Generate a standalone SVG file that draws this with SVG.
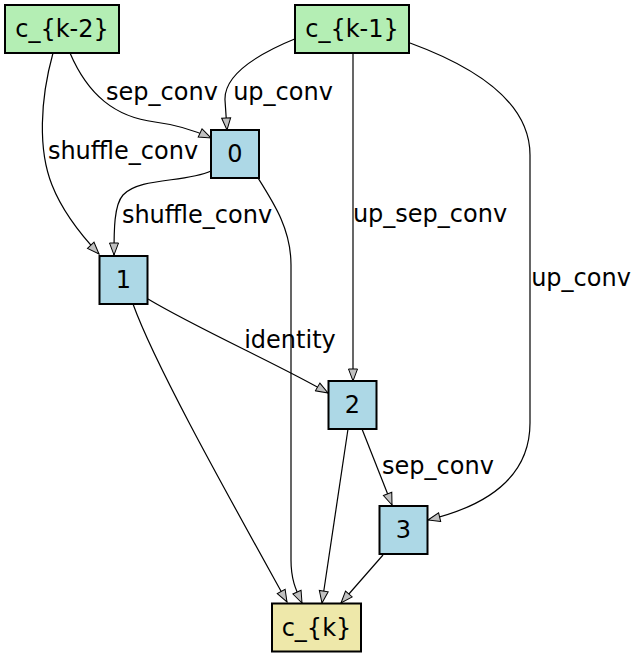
<svg xmlns="http://www.w3.org/2000/svg" width="637" height="657" viewBox="0 0 637 657">
<style>
.node rect{stroke:#000;stroke-width:2}
.in rect{fill:#b4eeb4}
.op rect{fill:#add8e6}
.out rect{fill:#eee8aa}
text{font-family:"DejaVu Sans",Verdana,sans-serif;font-size:24px;fill:#000}
.node text{text-anchor:middle}
.lbl{text-anchor:middle}
#edges path{fill:none;stroke:#000;stroke-width:1.2;marker-end:url(#arr)}
</style>
<defs>
<marker id="arr" viewBox="0 0 14 11" refX="13" refY="5.5" markerWidth="14" markerHeight="11" markerUnits="userSpaceOnUse" orient="auto">
<path d="M1,1 L13,5.5 L1,10 Z" fill="#c0c0c0" stroke="#000" stroke-width="1"/>
</marker>
</defs>
<rect width="637" height="657" fill="#fff"/>
<g id="edges">
<path d="M70,53 C88,95 115,117 155,122 C178,125 196,131 211,138"/>
<path d="M53,53 C40,100 38,150 52,185 C63,213 82,236 99,254"/>
<path d="M297,38 C255,55 224,75 225,100 L227,130"/>
<path d="M353,53 L353,381"/>
<path d="M410,43 C470,65 530,100 530,155 L530,423 C530,475 490,505 428,520"/>
<path d="M211,171 C185,183 140,177 123,195 C114,205 114,230 114,255"/>
<path d="M258,178 C275,205 291,230 291,265 L291,560 C291,580 296,590 302,603"/>
<path d="M148,299 C200,330 280,365 328,393"/>
<path d="M133,304 C155,365 225,490 287,602"/>
<path d="M348,429 L322,603"/>
<path d="M362,429 L392,505"/>
<path d="M383,555 L341,603"/>
<text class="lbl" x="162" y="100">sep_conv</text>
<text class="lbl" x="283" y="100">up_conv</text>
<text class="lbl" x="123" y="159">shuffle_conv</text>
<text class="lbl" x="197" y="223">shuffle_conv</text>
<text class="lbl" x="430" y="222">up_sep_conv</text>
<text class="lbl" x="581" y="286">up_conv</text>
<text class="lbl" x="290" y="348">identity</text>
<text class="lbl" x="438" y="474">sep_conv</text>
</g>
<g id="ck2" class="node in"><rect x="5" y="5" width="114" height="48"/><text x="62" y="37">c_{k-2}</text></g>
<g id="ck1" class="node in"><rect x="295" y="5" width="114" height="48"/><text x="352" y="37">c_{k-1}</text></g>
<g id="n0" class="node op"><rect x="211" y="130" width="48" height="48"/><text x="235" y="162">0</text></g>
<g id="n1" class="node op"><rect x="99.5" y="256" width="48" height="48"/><text x="123.5" y="288">1</text></g>
<g id="n2" class="node op"><rect x="328.5" y="381" width="48" height="48"/><text x="352.5" y="413">2</text></g>
<g id="n3" class="node op"><rect x="379.5" y="506" width="48" height="48"/><text x="403.5" y="538">3</text></g>
<g id="ck" class="node out"><rect x="272" y="603.5" width="89" height="48"/><text x="316.5" y="636">c_{k}</text></g>
</svg>
